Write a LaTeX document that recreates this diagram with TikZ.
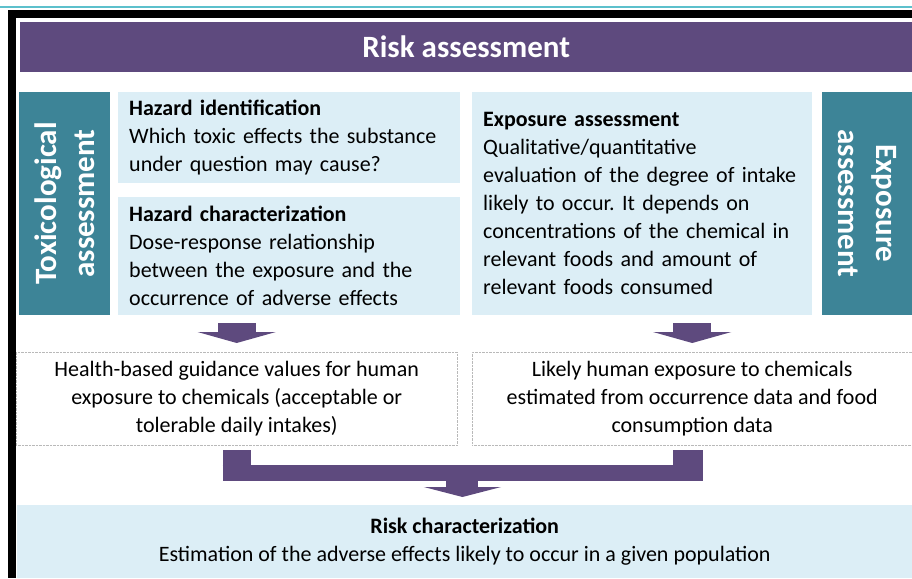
\documentclass[tikz,border=0pt]{standalone}
\usepackage{fontspec}
\setmainfont{Carlito}
\usetikzlibrary{arrows.meta,positioning,calc}
\definecolor{riskpurple}{RGB}{94,74,126}
\definecolor{riskteal}{RGB}{61,132,151}
\definecolor{risklight}{RGB}{220,238,246}
\definecolor{riskcyan}{RGB}{92,192,204}
\frenchspacing

\begin{document}
\begin{tikzpicture}[x=1pt,y=-1pt,font=\fontsize{22}{28}\selectfont,
  lightbox/.style={fill=risklight,anchor=north west,inner xsep=11pt,inner ysep=0pt,align=left},
  sidebox/.style={fill=riskteal,text=white,inner sep=0pt,align=center,
    font=\fontsize{31}{38}\selectfont\bfseries},
  outbox/.style={draw=gray!55,densely dotted,fill=white,anchor=north west,inner sep=0pt,align=center},
  fatarrow/.style={draw=riskpurple,line width=38pt,-{Triangle[width=78pt,length=11pt]}},
  mergearrow/.style={draw=riskpurple,line width=32pt,shorten >=8pt,-{Triangle[width=77pt,length=10pt]}},
  barline/.style={draw=riskpurple,line width=#1}]
  \useasboundingbox (0,0) rectangle (912,578);
  \fill[riskcyan] (0,6) rectangle (912,8.5);
  \fill[black] (8,10) rectangle (912,18);
  \fill[black] (8,10) rectangle (16,578);
  \node[fill=riskpurple,text=white,font=\fontsize{31}{36}\selectfont\bfseries,minimum width=892pt,
    minimum height=50pt,anchor=north west,inner sep=0pt] (header) at (20,22) {Risk assessment};
  \node[sidebox,rotate=90,minimum width=223pt,minimum height=91pt] (toxside) at (64.5,203.5) {Toxicological\\assessment};
  \node[sidebox,rotate=-90,minimum width=223pt,minimum height=90pt] (exposide) at (867,203.5) {Exposure\\assessment};
  \node[lightbox,text width=320pt,minimum height=91pt] (hazid) at (118,92)
    {\textbf{Hazard identification}\\Which toxic effects the substance\\under question may cause?};
  \node[lightbox,text width=320pt,minimum height=118pt] (hazchar) at (118,197)
    {\textbf{Hazard characterization}\\Dose-response relationship\\between the exposure and the\\occurrence of adverse effects};
  \node[lightbox,text width=318pt,minimum height=223pt] (expo) at (472,92)
    {\textbf{Exposure assessment}\\Qualitative/quantitative\\evaluation of the degree of intake\\likely to occur. It depends on\\concentrations of the chemical in\\relevant foods and amount of\\relevant foods consumed};
  \node[outbox,minimum width=441pt,minimum height=93pt] (health) at (16,352)
    {Health-based guidance values for human\\exposure to chemicals (acceptable or\\tolerable daily intakes)};
  \node[outbox,minimum width=440pt,minimum height=93pt] (likely) at (472,352)
    {Likely human exposure to chemicals\\estimated from occurrence data and food\\consumption data};
  \node[fill=risklight,minimum width=895pt,minimum height=73pt,anchor=north west,inner sep=0pt,align=center] (riskchar) at (17,505)
    {\textbf{Risk characterization}\\Estimation of the adverse effects likely to occur in a given population};
  \draw[fatarrow] ([yshift=-8pt]hazchar.south -| health.north) -- ([yshift=9pt]health.north);
  \draw[fatarrow] ([yshift=-8pt]expo.south -| likely.north) -- ([yshift=9pt]likely.north);
  \draw[barline=28pt] ([yshift=-5pt]health.south) -- ([yshift=-36pt]health.south);
  \draw[barline=30pt] ([xshift=-4pt,yshift=-5pt]likely.south) -- ([xshift=-4pt,yshift=-36pt]likely.south);
  \draw[barline=16pt] ([xshift=-14pt,yshift=-28pt]health.south) -- ([xshift=11pt,yshift=-28pt]likely.south);
  \coordinate (barmid) at ($(health.south)!0.5!(likely.south)+(-2,28)$);
  \draw[mergearrow] (barmid) -- (barmid |- riskchar.north);
\end{tikzpicture}
\end{document}
